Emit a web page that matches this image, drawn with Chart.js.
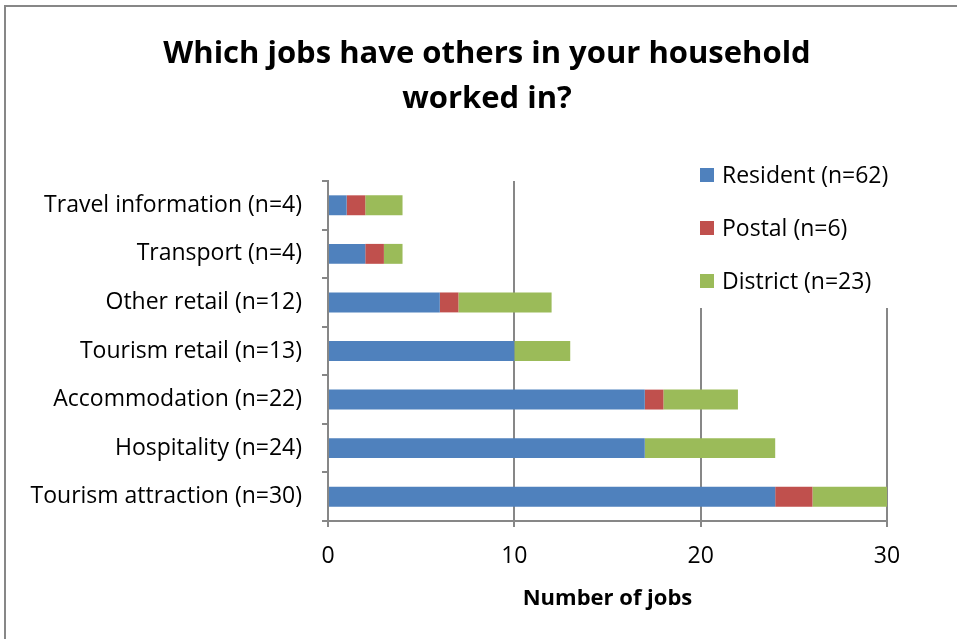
<!DOCTYPE html>
<html>
<head>
<meta charset="utf-8">
<script src="https://cdn.jsdelivr.net/npm/chart.js@4.4.1/dist/chart.umd.min.js"></script>
<style>
  html, body { margin: 0; padding: 0; background: #fff; }
  #wrap { width: 957px; height: 639px; }
</style>
</head>
<body>
<div id="wrap"><canvas id="chart" width="957" height="639"></canvas></div>
<script>
const categories = [
  'Travel information (n=4)',
  'Transport (n=4)',
  'Other retail (n=12)',
  'Tourism retail (n=13)',
  'Accommodation (n=22)',
  'Hospitality (n=24)',
  'Tourism attraction (n=30)'
];
const resident = [1, 2, 6, 10, 17, 17, 24];
const postal   = [1, 1, 1, 0, 1, 0, 2];
const district = [2, 1, 5, 3, 4, 7, 4];
const seriesNames = ['Resident (n=62)', 'Postal (n=6)', 'District (n=23)'];
const xTicks = [0, 10, 20, 30];
const titleLines = ['Which jobs have others in your household', 'worked in?'];

const FONT = '"Open Sans", Lato, sans-serif';
const GRID = '#878787';

// frame, title and the legend box laid over the plot
const decor = {
  id: 'decor',
  afterDraw(chart) {
    const c = chart.ctx;
    c.save();
    c.strokeStyle = GRID;
    c.lineWidth = 2;
    c.strokeRect(5, 6, 1000, 1000);

    c.fillStyle = '#000';
    c.font = 'bold 31px ' + FONT;
    c.textAlign = 'center';
    c.textBaseline = 'middle';
    titleLines.forEach((t, i) => c.fillText(t, 487, 54 + i * 45));

    c.fillStyle = '#fff';
    c.fillRect(690, 140, 230, 168);
    c.font = '23px ' + FONT;
    c.textAlign = 'left';
    chart.data.datasets.forEach((ds, i) => {
      const y = 175 + i * 53;
      c.fillStyle = ds.backgroundColor;
      c.fillRect(700, y - 7, 14, 14);
      c.fillStyle = '#000';
      c.fillText(ds.label, 722, y + 1);
    });
    c.restore();
  }
};

new Chart(document.getElementById('chart'), {
  type: 'bar',
  data: {
    labels: categories,
    datasets: [
      { label: seriesNames[0], data: resident, backgroundColor: '#4f81bd' },
      { label: seriesNames[1], data: postal, backgroundColor: '#c0504d' },
      { label: seriesNames[2], data: district, backgroundColor: '#9bbb59' }
    ]
  },
  options: {
    indexAxis: 'y',
    responsive: false,
    animation: false,
    layout: { padding: { left: 10, right: 70, top: 181, bottom: 23 } },
    datasets: { bar: { categoryPercentage: 1, barPercentage: 0.41 } },
    plugins: { legend: { display: false }, title: { display: false }, tooltip: { enabled: false } },
    scales: {
      x: {
        stacked: true,
        min: 0,
        max: 30,
        afterBuildTicks: s => { s.ticks = xTicks.map(v => ({ value: v })); },
        afterFit: s => { s.height = 95; },
        grid: { color: GRID, lineWidth: 2, tickLength: 6, tickColor: GRID },
        border: { color: GRID, width: 2 },
        ticks: { color: '#000', font: { family: FONT, size: 23 }, padding: 16 },
        title: {
          display: true,
          text: 'Number of jobs',
          color: '#000',
          font: { family: FONT, size: 22, weight: 'bold' },
          padding: { top: 4, bottom: 4 }
        }
      },
      y: {
        stacked: true,
        afterFit: s => { s.width = 318; },
        grid: { drawOnChartArea: false, offset: true, tickLength: 6, color: GRID, lineWidth: 2 },
        border: { color: GRID, width: 2 },
        ticks: { color: '#000', font: { family: FONT, size: 23 }, padding: 20 }
      }
    }
  },
  plugins: [decor]
});
</script>
</body>
</html>
